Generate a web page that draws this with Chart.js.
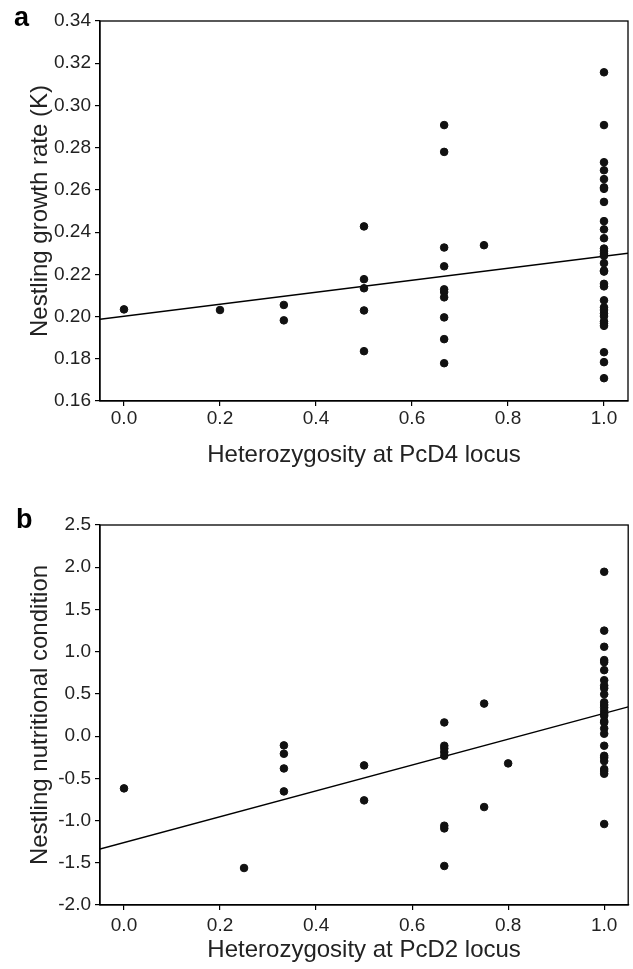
<!DOCTYPE html>
<html>
<head>
<meta charset="utf-8">
<script src="https://cdn.jsdelivr.net/npm/chart.js@4/dist/chart.umd.min.js"></script>
<style>
  body { margin: 0; background: #fff; }
  #wrap { position: relative; width: 633px; height: 969px; font-family: "Liberation Sans", Arial, sans-serif; }
  canvas { position: absolute; left: 0; }
  #chartA { top: 0; }
  #chartB { top: 480px; }
  .panel { position: absolute; font-weight: bold; font-size: 27px; line-height: 1; color: #000; }
</style>
</head>
<body>
<div id="wrap">
  <canvas id="chartA" width="633" height="480"></canvas>
  <canvas id="chartB" width="633" height="489"></canvas>
  <div class="panel" style="left:14px; top:4px;">a</div>
  <div class="panel" style="left:16px; top:506px;">b</div>
</div>
<script>
// panel a: growth rate vs heterozygosity at PcD4
const levelsA = [0, 0.2, 0.333, 0.5, 0.667, 0.75, 1.0];
const growthK = [
  [0.2034],
  [0.2031],
  [0.2055, 0.1982],
  [0.2427, 0.2177, 0.2134, 0.2029, 0.1836],
  [0.2907, 0.278, 0.2327, 0.2238, 0.2129, 0.2116, 0.2091, 0.1996, 0.1893, 0.1779],
  [0.2338],
  [0.3157, 0.2907, 0.2731, 0.2693, 0.2651, 0.2612, 0.2605, 0.2543, 0.2452, 0.2413,
   0.2371, 0.2322, 0.231, 0.2297, 0.2288, 0.2253, 0.2218, 0.2213, 0.2155, 0.2143,
   0.2077, 0.2044, 0.2031, 0.2015, 0.2002, 0.1977, 0.1968, 0.1956, 0.1831, 0.1784, 0.1708],
];
const fitAx = [-0.05, 1.05];
const fitAy = [0.1987, 0.23];
const yTicksA = [0.16, 0.18, 0.2, 0.22, 0.24, 0.26, 0.28, 0.3, 0.32, 0.34];

// panel b: nutritional condition vs heterozygosity at PcD2
const levelsB = [0, 0.25, 0.333, 0.5, 0.667, 0.75, 0.8, 1.0];
const condition = [
  [-0.619],
  [-1.562],
  [-0.11, -0.209, -0.383, -0.655],
  [-0.347, -0.761],
  [0.162, -0.114, -0.146, -0.189, -0.233, -1.061, -1.093, -1.538],
  [0.385, -0.84],
  [-0.323],
  [1.946, 1.249, 1.058, 0.9, 0.876, 0.781, 0.662, 0.599, 0.567, 0.496,
   0.401, 0.369, 0.338, 0.3, 0.264, 0.24, 0.178, 0.162, 0.091, 0.028,
   -0.114, -0.233, -0.256, -0.296, -0.39, -0.414, -0.446, -1.041],
];
const fitBx = [-0.05, 1.05];
const fitBy = [-1.337, 0.347];
const yTicksB = [-2.0, -1.5, -1.0, -0.5, 0.0, 0.5, 1.0, 1.5, 2.0, 2.5];

const xTicks = [0, 0.2, 0.4, 0.6, 0.8, 1.0];

const FONT = "'Liberation Sans', Arial, sans-serif";

const toPoints = (levels, groups) =>
  levels.flatMap((x, i) => groups[i].map((y) => ({ x, y })));

const frame = {
  id: "frame",
  afterDraw(chart) {
    const { ctx, chartArea: a } = chart;
    ctx.save();
    ctx.strokeStyle = "#000";
    ctx.lineWidth = 1.3;
    ctx.strokeRect(a.left, a.top, a.right - a.left, a.bottom - a.top);
    ctx.restore();
  },
};

const makeChart = (id, pts, fx, fy, yTicks, digits, xTitle, yTitle, pad, axisH) => {
  return new Chart(document.getElementById(id), {
    type: "scatter",
    data: {
      datasets: [
        {
          data: pts,
          backgroundColor: "#111",
          borderColor: "#111",
          pointRadius: 3.8,
          pointHoverRadius: 3.8,
        },
        {
          type: "line",
          data: fx.map((x, i) => ({ x, y: fy[i] })),
          borderColor: "#000",
          borderWidth: 1.4,
          pointRadius: 0,
          fill: false,
        },
      ],
    },
    options: {
      responsive: false,
      animation: false,
      events: [],
      layout: { padding: pad },
      plugins: { legend: { display: false }, tooltip: { enabled: false } },
      scales: {
        x: {
          type: "linear",
          min: -0.05,
          max: 1.05,
          afterBuildTicks: (s) => { s.ticks = xTicks.map((v) => ({ value: v })); },
          afterFit: (s) => { s.height = axisH; },
          grid: { drawOnChartArea: false, tickLength: 5, color: "#000", lineWidth: 1.2 },
          border: { display: true, color: "#000", width: 1.3 },
          ticks: {
            color: "#222",
            padding: pad.tickP,
            maxRotation: 0,
            font: { family: FONT, size: 19 },
            callback: (v) => v.toFixed(1),
          },
          title: {
            display: true,
            text: xTitle,
            color: "#222",
            font: { family: FONT, size: 24 },
            padding: { top: 0, bottom: pad.titleB },
          },
        },
        y: {
          type: "linear",
          min: yTicks[0],
          max: yTicks[yTicks.length - 1],
          afterBuildTicks: (s) => { s.ticks = yTicks.map((v) => ({ value: v })); },
          afterFit: (s) => { s.width = 100; },
          grid: { drawOnChartArea: false, tickLength: 5, color: "#000", lineWidth: 1.2 },
          border: { display: true, color: "#000", width: 1.3 },
          ticks: {
            color: "#222",
            padding: 4,
            font: { family: FONT, size: 19 },
            callback: (v) => v.toFixed(digits),
          },
          title: {
            display: true,
            text: yTitle,
            color: "#222",
            font: { family: FONT, size: 24 },
            padding: { top: 26, bottom: 0 },
          },
        },
      },
    },
    plugins: [frame],
  });
};

makeChart("chartA", toPoints(levelsA, growthK), fitAx, fitAy, yTicksA, 2,
  "Heterozygosity at PcD4 locus", "Nestling growth rate (K)",
  { top: 21, right: 5, left: 0, bottom: 0, titleB: 10, tickP: 1 }, 79);

makeChart("chartB", toPoints(levelsB, condition), fitBx, fitBy, yTicksB, 1,
  "Heterozygosity at PcD2 locus", "Nestling nutritional condition",
  { top: 45, right: 1, left: 0, bottom: 0, titleB: 4, tickP: 4 }, 64);
</script>
</body>
</html>
